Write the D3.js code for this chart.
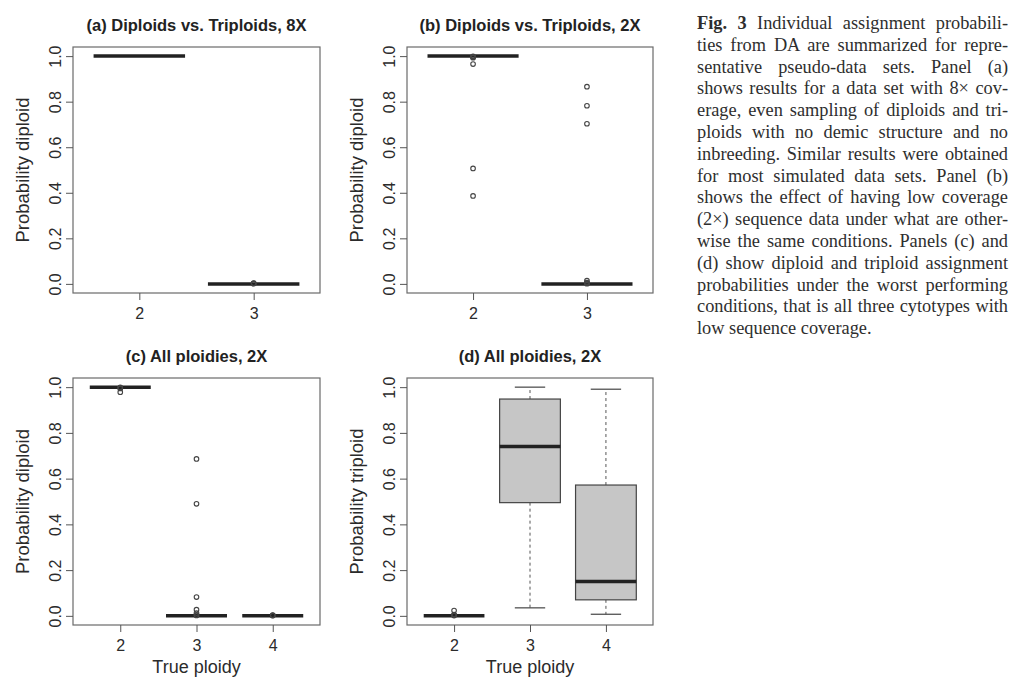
<!DOCTYPE html>
<html>
<head>
<meta charset="utf-8">
<script src="https://cdn.jsdelivr.net/npm/d3@7"></script>
<style>
  html, body { margin: 0; padding: 0; background: #fff; }
  svg { display: block; }
</style>
</head>
<body>
<svg id="chart" width="1024" height="698"></svg>
<script>
// ---------------- DATA ----------------
const categoriesAB = ["2", "3"];
const categoriesCD = ["2", "3", "4"];
const yTickValues = [0, 0.2, 0.4, 0.6, 0.8, 1.0];

// box statistics per group: [lower whisker, Q1, median, Q3, upper whisker]
const statsA = [[1, 1, 1, 1, 1], [0, 0, 0, 0, 0]];
const outliersA = [[], [0.001, 0.002, 0.003]];

const statsB = [[1, 1, 1, 1, 1], [0, 0, 0, 0, 0]];
const outliersB = [
  [0.999, 0.997, 0.995, 0.993, 0.965, 0.507, 0.386],
  [0.866, 0.782, 0.703, 0.014, 0.006, 0.003, 0.001]
];

const statsC = [[1, 1, 1, 1, 1], [0, 0, 0, 0, 0], [0, 0, 0, 0, 0]];
const outliersC = [
  [0.999, 0.997, 0.994, 0.978],
  [0.686, 0.49, 0.082, 0.027, 0.012, 0.004, 0.002],
  [0.001, 0.002, 0.003]
];

const statsD = [[0, 0, 0, 0, 0], [0.035, 0.495, 0.741, 0.948, 1.0], [0.007, 0.07, 0.15, 0.572, 0.991]];
const outliersD = [[0.023, 0.006, 0.003, 0.001], [], []];

const titles = ["(a) Diploids vs. Triploids, 8X", "(b) Diploids vs. Triploids, 2X", "(c) All ploidies, 2X", "(d) All ploidies, 2X"];
const yLabels = ["Probability diploid", "Probability diploid", "Probability diploid", "Probability triploid"];
const xLabels = ["", "", "True ploidy", "True ploidy"];

const captionLines = [
  "Individual assignment probabili-",
  "ties from DA are summarized for repre-",
  "sentative pseudo-data sets. Panel (a)",
  "shows results for a data set with 8\u00d7 cov-",
  "erage, even sampling of diploids and tri-",
  "ploids with no demic structure and no",
  "inbreeding. Similar results were obtained",
  "for most simulated data sets. Panel (b)",
  "shows the effect of having low coverage",
  "(2\u00d7) sequence data under what are other-",
  "wise the same conditions. Panels (c) and",
  "(d) show diploid and triploid assignment",
  "probabilities under the worst performing",
  "conditions, that is all three cytotypes with",
  "low sequence coverage."
];
const captionLead = "Fig. 3";

// ---------------- LAYOUT ----------------
const svg = d3.select("#chart");
svg.append("rect").attr("width", 1024).attr("height", 698).attr("fill", "#fff");

const SANS = "'Liberation Sans', Arial, Helvetica, sans-serif";
const TEXT = "#2b2b2b";

const panels = [
  { cats: categoriesAB, stats: statsA, out: outliersA, box: { l: 73, r: 320, t: 47, b: 293 } },
  { cats: categoriesAB, stats: statsB, out: outliersB, box: { l: 407, r: 653, t: 47, b: 293 } },
  { cats: categoriesCD, stats: statsC, out: outliersC, box: { l: 73, r: 320, t: 378, b: 625 } },
  { cats: categoriesCD, stats: statsD, out: outliersD, box: { l: 407, r: 653, t: 378, b: 625 } }
];

panels.forEach((p, i) => {
  const n = p.cats.length;
  const ext = 0.04 * n;
  const x = d3.scaleLinear().domain([0.5 - ext, n + 0.5 + ext]).range([p.box.l, p.box.r]);
  const y = d3.scaleLinear().domain([-0.04, 1.04]).range([p.box.b, p.box.t]);
  const g = svg.append("g");

  // boxes
  p.stats.forEach((s, k) => {
    const c = k + 1;
    const [lo, q1, med, q3, hi] = s;
    // whiskers (dashed)
    if (hi > q3) g.append("line").attr("x1", x(c)).attr("x2", x(c)).attr("y1", y(q3)).attr("y2", y(hi))
      .attr("stroke", "#555").attr("stroke-width", 1).attr("stroke-dasharray", "3,3");
    if (lo < q1) g.append("line").attr("x1", x(c)).attr("x2", x(c)).attr("y1", y(q1)).attr("y2", y(lo))
      .attr("stroke", "#555").attr("stroke-width", 1).attr("stroke-dasharray", "3,3");
    // staples
    [lo, hi].forEach(v => {
      g.append("line").attr("x1", x(c - 0.2)).attr("x2", x(c + 0.2)).attr("y1", y(v)).attr("y2", y(v))
        .attr("stroke", "#444").attr("stroke-width", 1.2);
    });
    // box
    g.append("rect").attr("x", x(c - 0.4)).attr("width", x(c + 0.4) - x(c - 0.4))
      .attr("y", y(q3)).attr("height", Math.max(0, y(q1) - y(q3)))
      .attr("fill", "#c6c6c6").attr("stroke", "#444").attr("stroke-width", 1.2);
    // median
    g.append("line").attr("x1", x(c - 0.4)).attr("x2", x(c + 0.4)).attr("y1", y(med)).attr("y2", y(med))
      .attr("stroke", "#222").attr("stroke-width", 3.5);
    // outliers
    g.selectAll(null).data(p.out[k]).join("circle")
      .attr("cx", x(c)).attr("cy", d => y(d)).attr("r", 2.3)
      .attr("fill", "none").attr("stroke", "#444").attr("stroke-width", 1.1);
  });

  // frame
  g.append("rect").attr("x", p.box.l).attr("y", p.box.t)
    .attr("width", p.box.r - p.box.l).attr("height", p.box.b - p.box.t)
    .attr("fill", "none").attr("stroke", "#6a6a6a").attr("stroke-width", 1.2);

  // y axis
  const ya = g.append("g").attr("transform", `translate(${p.box.l},0)`)
    .call(d3.axisLeft(y).tickValues(yTickValues).tickFormat(d3.format(".1f")).tickSize(7));
  ya.select(".domain").remove();
  ya.selectAll(".tick line").attr("stroke", "#555");
  ya.selectAll(".tick text")
    .attr("x", 0).attr("y", 0).attr("dy", null)
    .attr("text-anchor", "middle")
    .attr("transform", "translate(-12,0) rotate(-90)")
    .attr("fill", TEXT).style("font-family", SANS).style("font-size", "16px");

  // x axis
  const xa = g.append("g").attr("transform", `translate(0,${p.box.b})`)
    .call(d3.axisBottom(x).tickValues(d3.range(1, n + 1)).tickFormat(d => p.cats[d - 1]).tickSize(7));
  xa.select(".domain").remove();
  xa.selectAll(".tick line").attr("stroke", "#555");
  xa.selectAll(".tick text").attr("y", 26).attr("dy", null)
    .attr("fill", TEXT).style("font-family", SANS).style("font-size", "16px");

  // titles
  g.append("text").attr("x", (p.box.l + p.box.r) / 2).attr("y", p.box.t - 16)
    .attr("text-anchor", "middle").attr("fill", "#222")
    .style("font-family", SANS).style("font-size", "16.5px").style("font-weight", "bold")
    .text(titles[i]);

  // y label
  g.append("text")
    .attr("transform", `translate(${p.box.l - 44},${(p.box.t + p.box.b) / 2}) rotate(-90)`)
    .attr("text-anchor", "middle").attr("fill", TEXT)
    .style("font-family", SANS).style("font-size", "18.5px")
    .text(yLabels[i]);

  // x label
  if (xLabels[i]) {
    g.append("text").attr("x", (p.box.l + p.box.r) / 2).attr("y", p.box.b + 48)
      .attr("text-anchor", "middle").attr("fill", TEXT)
      .style("font-family", SANS).style("font-size", "18px")
      .text(xLabels[i]);
  }
});

// ---------------- CAPTION ----------------
const capLeft = 697, capRight = 1008, capTop = 29, capStep = 21.8;
const SERIF = "'Liberation Serif', 'Times New Roman', serif";
const capG = svg.append("g");
// size the font so that the widest (loosely set) line nearly fills the column, as in the print
const probe = capG.append("text").attr("font-family", SERIF).attr("font-size", 20).text(captionLines[13]);
const probeW = probe.node().getComputedTextLength();
probe.remove();
const capSize = 20 * 306 / probeW;
captionLines.forEach((line, i) => {
  const t = capG.append("text").attr("x", capLeft).attr("y", capTop + i * capStep)
    .attr("fill", "#2e2e2e")
    .attr("font-family", SERIF)
    .attr("font-size", capSize);
  if (i === 0) {
    t.append("tspan").attr("font-weight", "bold").text(captionLead);
    t.append("tspan").text(" " + line);
  } else {
    t.text(line);
  }
  if (i < captionLines.length - 1) {
    const full = (i === 0 ? captionLead + " " : "") + line;
    const spaces = (full.match(/ /g) || []).length;
    const w = t.node().getComputedTextLength();
    if (spaces > 0) t.attr("word-spacing", ((capRight - capLeft - w) / spaces));
  }
});
</script>
</body>
</html>
